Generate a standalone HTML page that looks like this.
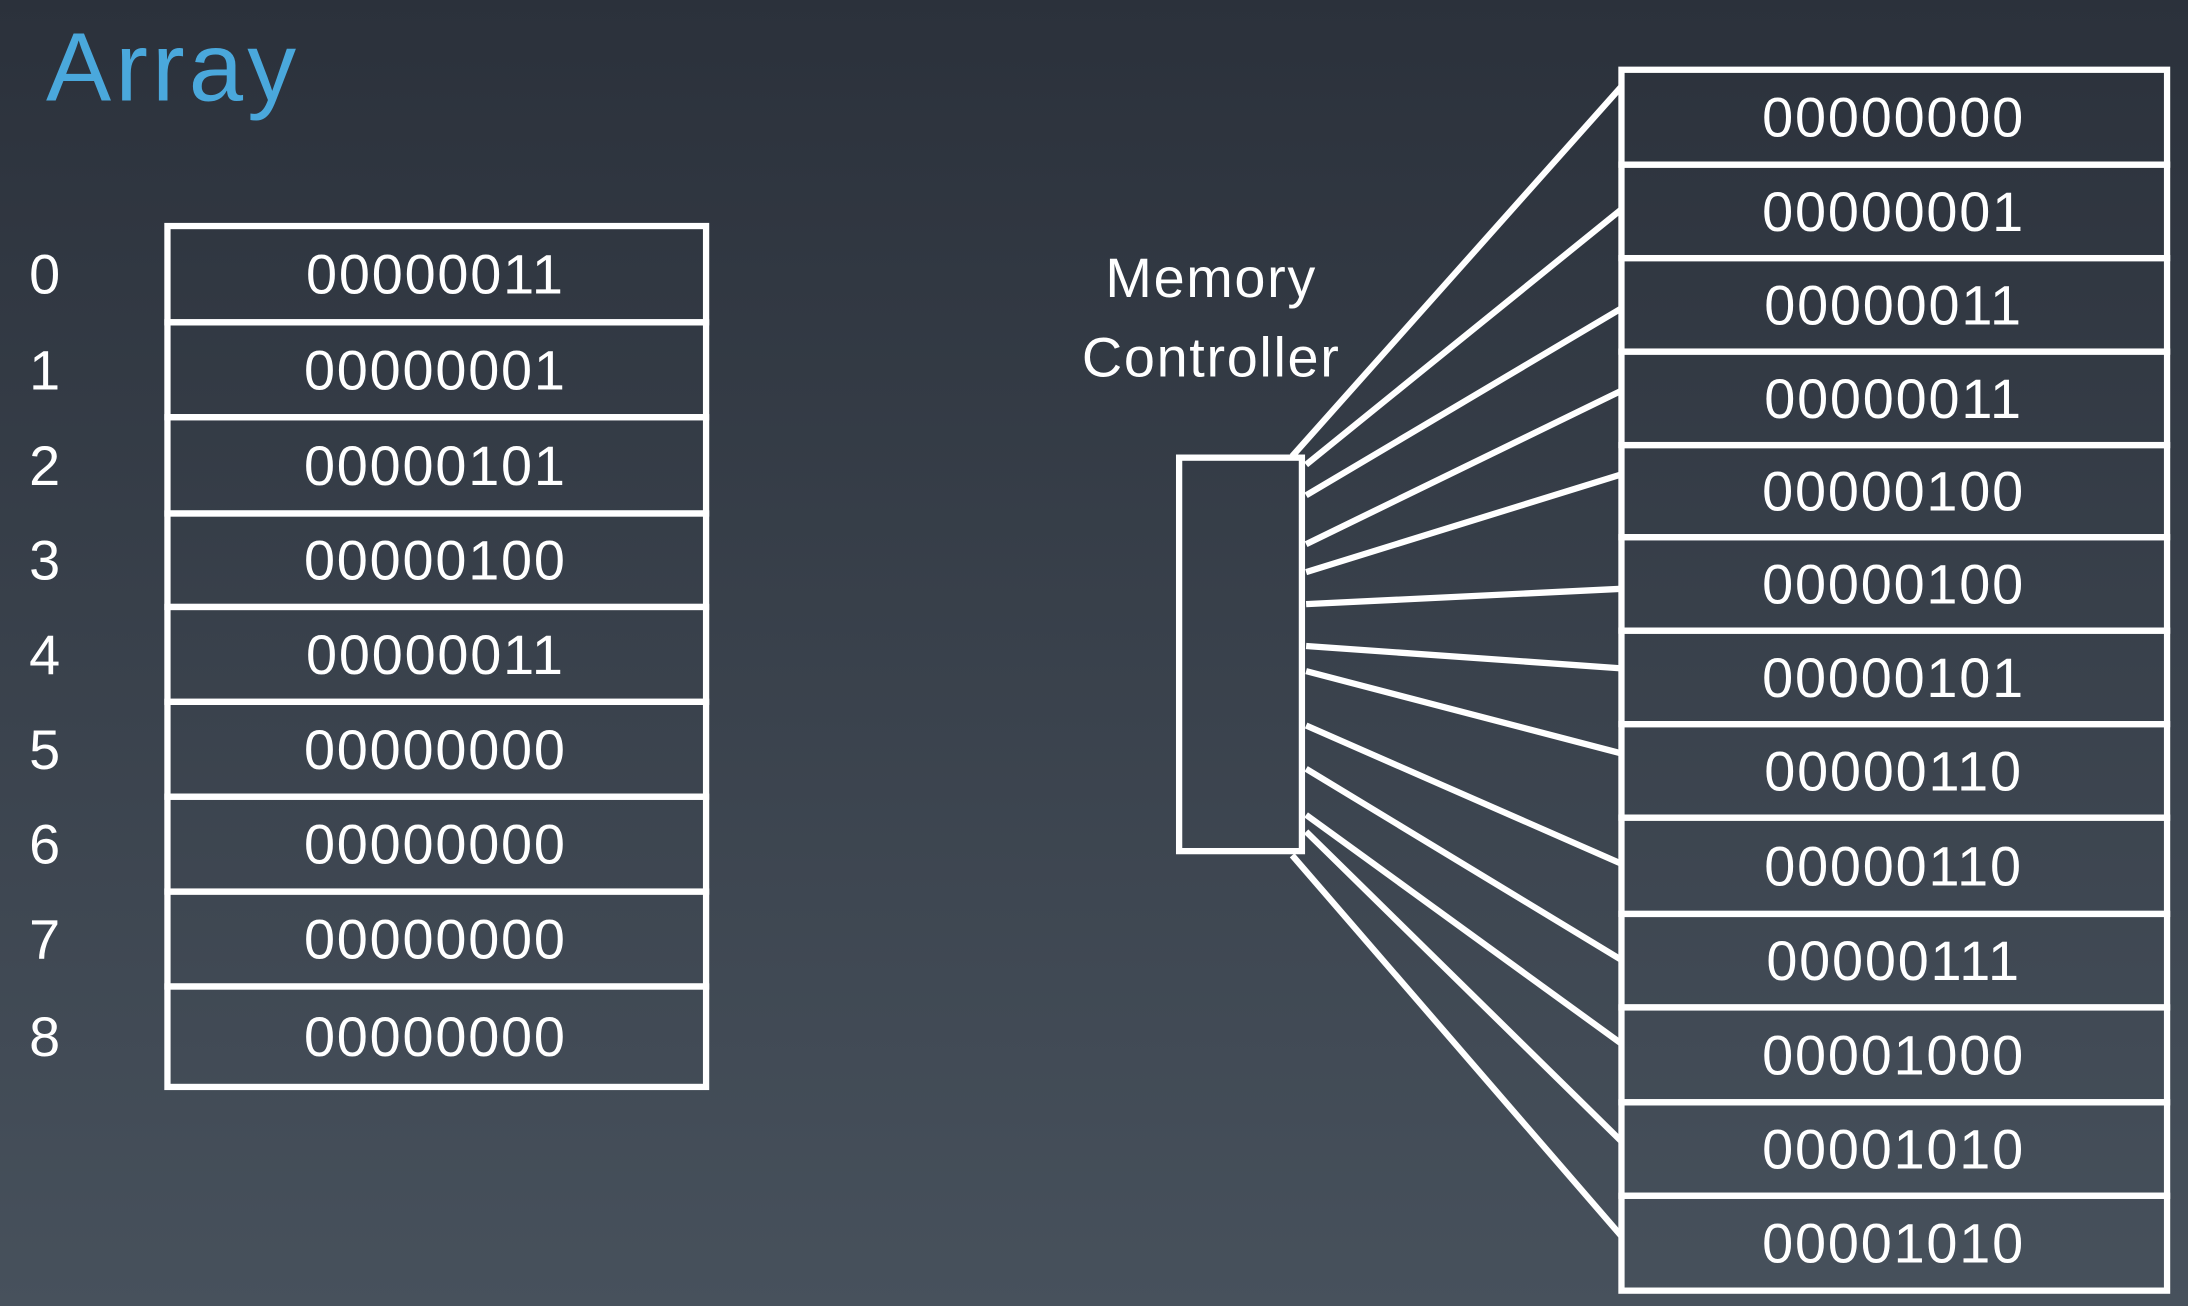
<!DOCTYPE html>
<html><head><meta charset="utf-8"><style>
html,body{margin:0;padding:0;width:2188px;height:1306px;overflow:hidden}
svg{display:block}
text{font-family:"Liberation Sans",sans-serif;fill:#fff}
</style></head><body>
<svg id="s" width="2188" height="1306" viewBox="0 0 1568 936" preserveAspectRatio="none">
<defs><linearGradient id="bg" x1="0" y1="0" x2="0" y2="1"><stop offset="0" stop-color="#2b313b"/><stop offset="1" stop-color="#47515c"/></linearGradient></defs>
<rect width="1568" height="936" fill="url(#bg)"/>
<text x="33" y="72" font-size="70" letter-spacing="3" style="fill:#4aa8dc">Array</text>
<text x="868" y="213" font-size="40" letter-spacing="1.2" text-anchor="middle">Memory</text>
<text x="868" y="270" font-size="40" letter-spacing="1.2" text-anchor="middle">Controller</text>
<rect x="845" y="328" width="88" height="282" fill="none" stroke="#fff" stroke-width="4.5"/>
<g id="g"></g>
</svg>
<script>
const leftValues=["00000011","00000001","00000101","00000100","00000011","00000000","00000000","00000000","00000000"];
const leftIndex=["0","1","2","3","4","5","6","7","8"];
const rightValues=["00000000","00000001","00000011","00000011","00000100","00000100","00000101","00000110","00000110","00000111","00001000","00001010","00001010"];
const leftBounds=[162,231,299,368,435,503,571,639,707,779];
const rightBounds=[50,118,185,252,319,385,452,519,586,655,722,790,857,925];
const wireStarts=[[926,327],[936,333],[936,355],[936,390],[936,410],[936,433],[936,463],[936,481],[936,520],[936,551],[936,584],[936,596],[926,613]];
const wireEnds=[62,150,221,280,340,422,479,540,619,688,748,818,886];
const g=document.getElementById('g');
const NS="http://www.w3.org/2000/svg";
function mk(t,a){const e=document.createElementNS(NS,t);for(const k in a)e.setAttribute(k,a[k]);g.appendChild(e);return e;}
leftValues.forEach((v,i)=>{
 const y0=leftBounds[i],y1=leftBounds[i+1];
 const r=mk('rect',{x:120,y:y0,width:386,height:y1-y0,fill:'none',stroke:'#fff','stroke-width':4.5});
 
 
 const t=mk('text',{x:312,y:(y0+y1)/2+14,'font-size':40,'text-anchor':'middle','letter-spacing':1.3});t.textContent=v;
 
 
 const l=mk('text',{x:32,y:(y0+y1)/2+14,'font-size':40,'text-anchor':'middle'});l.textContent=leftIndex[i];
 
 
});
rightValues.forEach((v,i)=>{
 const y0=rightBounds[i],y1=rightBounds[i+1];
 const r=mk('rect',{x:1162,y:y0,width:391,height:y1-y0,fill:'none',stroke:'#fff','stroke-width':4.5});
 
 
 const t=mk('text',{x:1357,y:(y0+y1)/2+14,'font-size':40,'text-anchor':'middle','letter-spacing':1.3});t.textContent=v;
 
 
});
wireEnds.forEach((y,i)=>{
 const s=wireStarts[i];
 const ln=mk('line',{x1:s[0],y1:s[1],x2:1162,y2:y,stroke:'#fff','stroke-width':4.5});
 
 
});
</script>
</body></html>
